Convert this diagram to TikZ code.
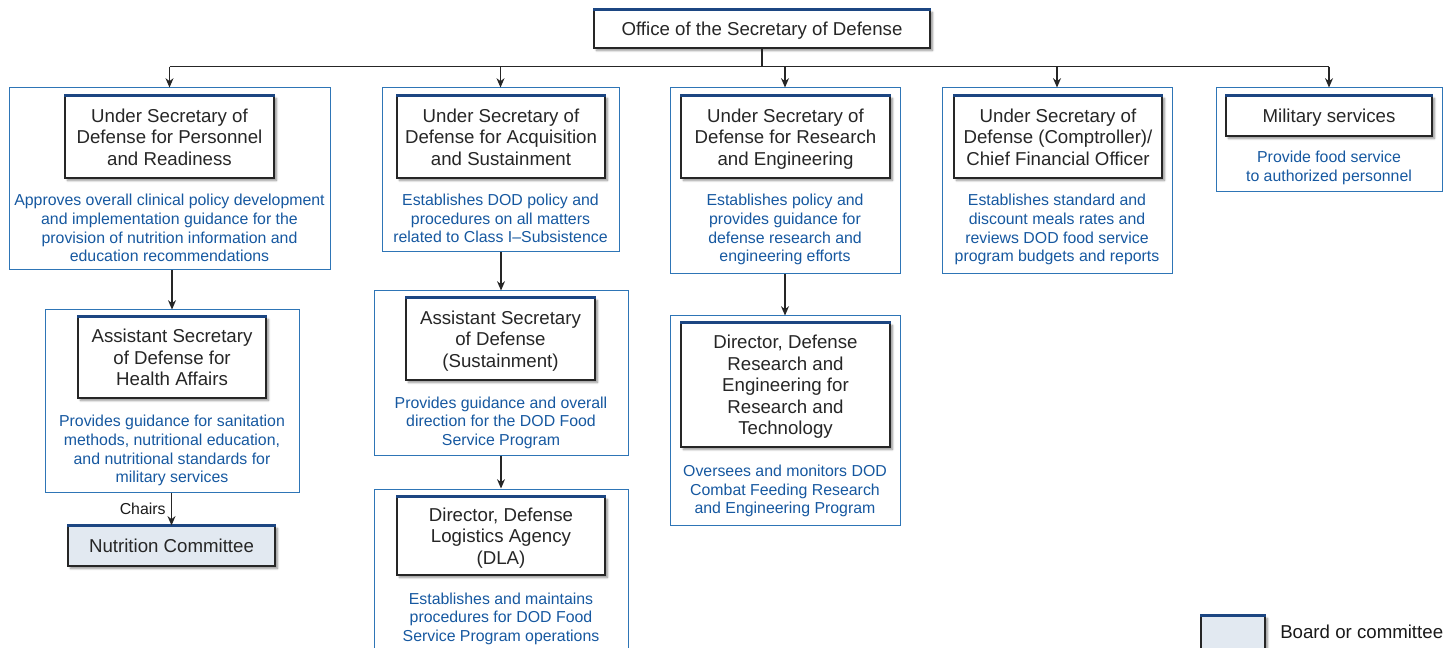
\documentclass[tikz,border=0pt]{standalone}
\usepackage{fontspec}
\setmainfont{Liberation Sans}
\usetikzlibrary{positioning,shadows.blur,arrows.meta}

\definecolor{gaoblue}{RGB}{46,117,182}
\definecolor{gaotext}{RGB}{22,88,160}
\definecolor{gaonavy}{RGB}{28,70,130}
\definecolor{gaofill}{RGB}{226,233,241}

\tikzset{
  outerbox/.style 2 args={draw=gaoblue, line width=0.75pt, inner sep=0pt,
    minimum width=#1*0.75pt, minimum height=#2*0.75pt},
  titlebox/.style 2 args={draw=black!85, line width=0.9pt, fill=white, inner sep=0pt,
    align=center, font=\fontsize{14}{16.1}\selectfont, text=black!85, text depth=0pt,
    minimum width=#1*0.75pt, minimum height=#2*0.75pt,
    blur shadow={shadow xshift=1.8pt, shadow yshift=-1.8pt, shadow blur radius=1.6pt,
      shadow blur steps=6, shadow opacity=45}},
  boardbox/.style 2 args={titlebox={#1}{#2}, fill=gaofill},
  desc/.style={text=gaotext, align=center, inner sep=0pt, text depth=0pt,
    font=\fontsize{11.9}{13.9}\selectfont},
  topline/.style={draw=gaonavy, line width=2pt},
  arr/.style={-{Stealth[length=7pt,width=6pt]}, line width=0.85pt, black!85},
  link/.style={line width=0.85pt, black!85}
}

\begin{document}
\begin{tikzpicture}[x=0.75pt,y=0.75pt,yscale=-1,xscale=1]
  \useasboundingbox (0,0) rectangle (1455,648);

  %Top office
  \node[titlebox={336}{38}] (osd) at (762,29) {Office of the Secretary of Defense};

  %Column: Personnel and Readiness
  \node[outerbox={321}{182}] (c1) at (169.5,179) {};
  \node[titlebox={209}{82}] (t1) at (169.5,137) {Under Secretary of\\Defense for Personnel\\and Readiness};
  \node[desc] (d1) at (169.5,228) {Approves overall clinical policy development\\and implementation guidance for the\\provision of nutrition information and\\education recommendations};
  \node[outerbox={254}{182}] (c1b) at (172,401) {};
  \node[titlebox={188}{81}] (t1b) at (172,357.5) {Assistant Secretary\\of Defense for\\Health Affairs};
  \node[desc] (d1b) at (172,449) {Provides guidance for sanitation\\methods, nutritional education,\\and nutritional standards for\\military services};
  \node[boardbox={207}{40}] (nc) at (171.5,546) {Nutrition Committee};

  %Column: Acquisition and Sustainment
  \node[outerbox={237}{164}] (c2) at (500.5,170) {};
  \node[titlebox={208}{82}] (t2) at (501,137) {Under Secretary of\\Defense for Acquisition\\and Sustainment};
  \node[desc] (d2) at (500.5,218.5) {Establishes DOD policy and\\procedures on all matters\\related to Class I–Subsistence};
  \node[outerbox={254}{164}] (c2b) at (501,373) {};
  \node[titlebox={189}{82}] (t2b) at (500.5,339) {Assistant Secretary\\of Defense\\(Sustainment)};
  \node[desc] (d2b) at (501,421) {Provides guidance and overall\\direction for the DOD Food\\Service Program};
  \node[outerbox={254}{173}] (c2c) at (501,575.5) {};
  \node[titlebox={208}{78}] (t2c) at (501,536) {Director, Defense\\Logistics Agency\\(DLA)};
  \node[desc] (d2c) at (501,617) {Establishes and maintains\\procedures for DOD Food\\Service Program operations};

  %Column: Research and Engineering
  \node[outerbox={230}{186}] (c3) at (785,181) {};
  \node[titlebox={209}{82}] (t3) at (785.5,137) {Under Secretary of\\Defense for Research\\and Engineering};
  \node[desc] (d3) at (785,228) {Establishes policy and\\provides guidance for\\defense research and\\engineering efforts};
  \node[outerbox={230}{209}] (c3b) at (785,420.5) {};
  \node[titlebox={209}{124}] (t3b) at (785.5,385) {Director, Defense\\Research and\\Engineering for\\Research and\\Technology};
  \node[desc] (d3b) at (785,489.5) {Oversees and monitors DOD\\Combat Feeding Research\\and Engineering Program};

  %Column: Comptroller
  \node[outerbox={230}{186}] (c4) at (1057,181) {};
  \node[titlebox={208}{82}] (t4) at (1058,137) {Under Secretary of\\Defense (Comptroller)/\\Chief Financial Officer};
  \node[desc] (d4) at (1057,228) {Establishes standard and\\discount meals rates and\\reviews DOD food service\\program budgets and reports};

  %Column: Military services
  \node[outerbox={226}{104}] (c5) at (1329,140) {};
  \node[titlebox={206}{40}] (t5) at (1329,116) {Military services};
  \node[desc] (d5) at (1329,166.5) {Provide food service\\to authorized personnel};

  %Legend
  \node[boardbox={64}{46}] (lg) at (1233,639) {};
  \node[anchor=west, inner sep=0pt, font=\fontsize{14}{16.1}\selectfont, text=black!90] (lgtext) at (1280,632) {Board or committee};

  %Blue top edges
  \foreach \n in {osd,t1,t1b,nc,t2,t2b,t2c,t3,t3b,t4,t5,lg}
    \draw[topline] (\n.north west) -- (\n.north east);

  %Connectors
  \draw[link] (osd.south) -- ++(0,18) coordinate (bus);
  \draw[link] (bus -| c1.north) -- (bus -| c5.north);
  \foreach \c in {c1,c2,c3,c4,c5}
    \draw[arr] (bus -| \c.north) -- (\c.north);
  \draw[arr] (c1.south -| t1b.south) -- (c1b.north -| t1b.south);
  \draw[arr] (c1b.south -| nc.north) -- node[left, inner sep=4pt, font=\fontsize{11.9}{13.9}\selectfont, text=black!90] (chairs) {Chairs} (nc.north);
  \draw[arr] (c2.south -| c2b.north) -- (c2b.north);
  \draw[arr] (c2b.south) -- (c2c.north);
  \draw[arr] (c3.south) -- (c3b.north);
\end{tikzpicture}
\end{document}
